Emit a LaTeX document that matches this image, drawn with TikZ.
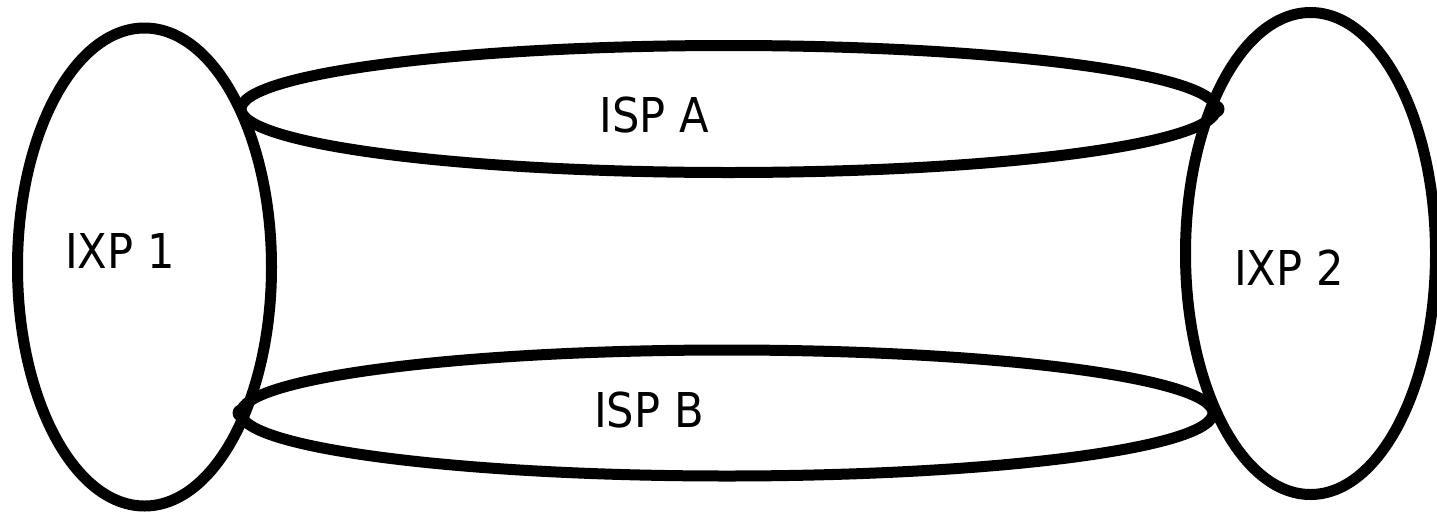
\documentclass[tikz,border=0pt]{standalone}
\usepackage{fontspec}
\setmainfont{DejaVu Sans}[FakeStretch=0.9]
\usetikzlibrary{shapes.geometric}
\begin{document}
\begin{tikzpicture}[x=1pt,y=-1pt,
  blob/.style={ellipse,draw=black,line width=11pt,inner sep=0pt,outer sep=0pt},
  lbl/.style={anchor=base,inner sep=0pt,font=\fontsize{48}{58}\selectfont},
  joint/.style={circle,fill=black,inner sep=0pt,minimum size=17pt}]
\useasboundingbox (0,0) rectangle (1437,512);
\node[blob,minimum width=254pt,minimum height=478pt] (ixp1) at (144.5,267) {};
\node[blob,minimum width=250pt,minimum height=482pt] (ixp2) at (1310.5,253.5) {};
\node[blob,minimum width=975pt,minimum height=127pt] (ispa) at (728.5,109) {};
\node[blob,minimum width=972pt,minimum height=126pt] (ispb) at (727,413) {};
\node[joint] (ja) at (ispa.east) {};
\node[joint] (jb) at (ispb.west) {};
\node[lbl] (t1) at (120,268) {IXP 1};
\node[lbl] (t2) at (1289,285) {IXP 2};
\node[lbl] (ta) at (654,132) {ISP A};
\node[lbl] (tb) at (649,427) {ISP B};
\end{tikzpicture}
\end{document}
